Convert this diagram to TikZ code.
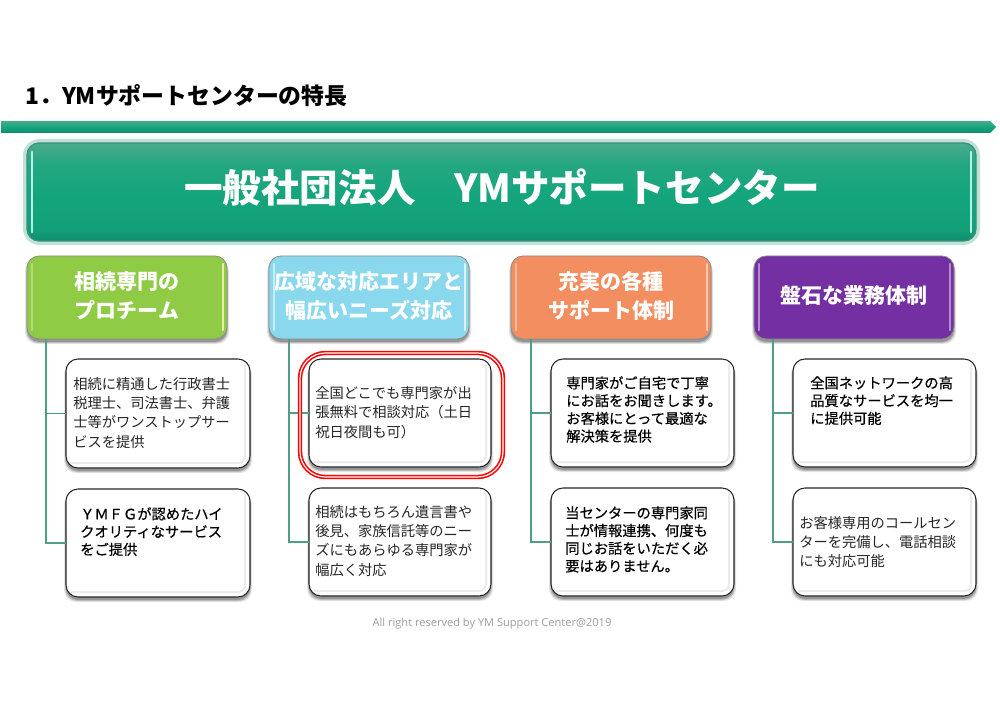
\documentclass[tikz,border=0pt]{standalone}
\usepackage{fontspec}
\setmainfont{Noto Sans CJK JP}
\newfontfamily\cjkreg{Noto Sans CJK JP}
\newfontfamily\cjkmed[FakeBold=0.5]{Noto Sans CJK JP}
\newfontfamily\copyfont{Open Sans}
\usetikzlibrary{calc}
\definecolor{teal1}{HTML}{4AAA8C}
\definecolor{teal2}{HTML}{14A57C}
\definecolor{teal3}{HTML}{0F8C6C}
\definecolor{tealedge}{HTML}{3F8F78}
\definecolor{conn}{HTML}{4F9F87}
\definecolor{grn}{HTML}{8FCB45}
\definecolor{blu}{HTML}{8AD8EE}
\definecolor{org}{HTML}{F38E60}
\definecolor{pur}{HTML}{7430A3}
\pgfdeclareverticalshading{mainshade}{100bp}{color(0bp)=(teal3); color(25bp)=(teal3); color(31bp)=(teal2!80!teal3); color(48bp)=(teal2); color(64bp)=(teal2!70!teal1); color(75bp)=(teal1); color(100bp)=(teal1)}
\tikzset{
  x=0.75pt,y=-0.75pt,
  boxbase/.style={rounded corners=9pt,inner sep=0pt,outer sep=0pt},
  mainbox/.style={boxbase,draw=tealedge,line width=0.9pt,shading=mainshade},
  hdrbox/.style={boxbase,draw=black!45,line width=0.6pt},
  childbox/.style={boxbase,draw=black!85,line width=0.8pt,fill=white},
  hdrtext/.style={text=white,font=\fontsize{15.75}{21.75}\selectfont\bfseries,align=center},
  childtext/.style={anchor=north west,inner sep=0pt,align=left,text=black!85,font=\fontsize{10.7}{14.5}\selectfont\cjkreg},
  childbold/.style={childtext,text=black,font=\fontsize{10.7}{13.3}\selectfont\cjkmed},
  connector/.style={draw=conn,line width=0.9pt},
  strip/.style={line width=1.6pt,line cap=round},
}
% #1 style, #2 name, #3 x1, #4 y1, #5 x2, #6 y2, #7 text
\newcommand\pxbox[7]{%
  \foreach \s/\o in {3/0.10,2/0.16,1/0.22}{%
    \fill[black,opacity=\o,rounded corners=9pt] ({#3-\s+1},{#4+3}) rectangle ({#5+\s-1},{#6+2+\s});}%
  \node[#1,minimum width={(#5-#3)*0.75pt},minimum height={(#6-#4)*0.75pt}] (#2) at ({(#3+#5)/2},{(#4+#6)/2}) {#7};}
% bevel strips for coloured boxes
\newcommand\bevel[6]{%
  \draw[strip,#5] ({#1+5},{#2+8}) -- ({#1+5},{#4-9});
  \draw[strip,#6] ({#3-4},{#2+8}) -- ({#3-4},{#4-9});}
% faint inner edge of the white boxes
\newcommand\inneredge[4]{%
  \draw[black!8,line width=1.5pt,rounded corners=5pt] ({#1+5},{#4-5}) -- ({#3-5},{#4-5}) -- ({#3-5},{#2+5});}
\begin{document}
\begin{tikzpicture}
\useasboundingbox (0,0) rectangle (1000,706);
\fill[white] (0,0) rectangle (1000,706);

% title and rule
\node[anchor=base west,inner sep=0pt,font=\fontsize{17.15}{20}\selectfont\bfseries] (title) at (25,105) {1．YMサポートセンターの特長};
\path[top color=teal1,bottom color=teal3,middle color=teal2] (1,121) -- (990,121) -- (996,127) -- (990,133) -- (1,133) -- cycle;

% main banner
\draw[rounded corners=11pt,line width=3pt,draw=teal1!35] (25,141) rectangle (978,243);
\node[mainbox,minimum width={949*0.75pt},minimum height={98*0.75pt}] (main) at (501.5,192) {};
\draw[strip,line width=2pt,draw=teal1!40!cyan!35!white] (32,152) -- (32,232);
\draw[strip,line width=2pt,draw=teal1!40!cyan!35!white] (971,152) -- (971,232);
\node[font=\fontsize{28.9}{32}\selectfont\bfseries,text=white,inner sep=0pt] (maintext) at (502,187) {一般社団法人　YMサポートセンター};

% connectors
\coordinate (t1) at (46,339);
\coordinate (t2) at (289,339);
\coordinate (t3) at (531,339);
\coordinate (t4) at (773,339);

% header boxes
\pxbox{hdrbox,fill=grn}{h1}{27}{256}{227}{339}{}
\bevel{27}{256}{227}{339}{grn!70!white}{yellow!50!grn!40!white}
\node[hdrtext] (h1t) at (127,296) {相続専門の\\プロチーム};
\pxbox{hdrbox,fill=blu}{h2}{269}{256}{469}{339}{}
\bevel{269}{256}{469}{339}{blu!50!white}{blu!30!white}
\node[hdrtext] (h2t) at (369,296) {広域な対応エリアと\\幅広いニーズ対応};
\pxbox{hdrbox,fill=org}{h3}{511}{256}{711}{339}{}
\bevel{511}{256}{711}{339}{org!60!white}{org!50!white}
\node[hdrtext] (h3t) at (611,296) {充実の各種\\サポート体制};
\pxbox{hdrbox,fill=pur}{h4}{754}{256}{954}{339}{}
\bevel{754}{256}{954}{339}{pur!55!white}{pur!55!white}
\node[hdrtext] (h4t) at (854,296) {盤石な業務体制};

% child boxes
\pxbox{childbox}{c11}{66}{359}{250}{468}{}\inneredge{66}{359}{250}{468}
\pxbox{childbox}{c12}{66}{489}{250}{597}{}\inneredge{66}{489}{250}{597}
\pxbox{childbox}{c21}{309}{359}{491}{467}{}\inneredge{309}{359}{491}{467}
\pxbox{childbox}{c22}{309}{488}{491}{596}{}\inneredge{309}{488}{491}{596}
\pxbox{childbox}{c31}{551}{359}{734}{467}{}\inneredge{551}{359}{734}{467}
\pxbox{childbox}{c32}{551}{488}{734}{596}{}\inneredge{551}{488}{734}{596}
\pxbox{childbox}{c41}{793}{359}{976}{467}{}\inneredge{793}{359}{976}{467}
\pxbox{childbox}{c42}{793}{488}{976}{596}{}\inneredge{793}{488}{976}{596}

\draw[connector] (t1) |- (c11.west);
\draw[connector] (t1) |- (c12.west);
\draw[connector] (t2) |- (c21.west);
\draw[connector] (t2) |- (c22.west);
\draw[connector] (t3) |- (c31.west);
\draw[connector] (t3) |- (c32.west);
\draw[connector] (t4) |- (c41.west);
\draw[connector] (t4) |- (c42.west);

% child texts
\node[childtext] (x11) at (73,377) {相続に精通した行政書士\\税理士、司法書士、弁護\\士等がワンストップサー\\ビスを提供};
\node[childbold] (x12) at (80,507) {ＹＭＦＧが認めたハイ\\クオリティなサービス\\をご提供};
\node[childtext] (x21) at (315,386) {全国どこでも専門家が出\\張無料で相談対応（土日\\祝日夜間も可）};
\node[childtext] (x22) at (315,505) {相続はもちろん遺言書や\\後見、家族信託等のニー\\ズにもあらゆる専門家が\\幅広く対応};
\node[childbold] (x31) at (566,376) {専門家がご自宅で丁寧\\にお話をお聞きします。\\お客様にとって最適な\\解決策を提供};
\node[childbold] (x32) at (565,506) {当センターの専門家同\\士が情報連携、何度も\\同じお話をいただく必\\要はありません。};
\node[childbold] (x41) at (810,376) {全国ネットワークの高\\品質なサービスを均一\\に提供可能};
\node[childtext] (x42) at (799,516) {お客様専用のコールセン\\ターを完備し、電話相談\\にも対応可能};

% highlight
\draw[red,double=white,double distance=0.9pt,line width=1.2pt,rounded corners=19pt] (300,353) rectangle (503,477);

% footer
\node[font=\fontsize{8.3}{10}\selectfont\copyfont,text=black!38,inner sep=0pt] (foot) at (492,623.5) {All right reserved by YM Support Center@2019};
\end{tikzpicture}
\end{document}
